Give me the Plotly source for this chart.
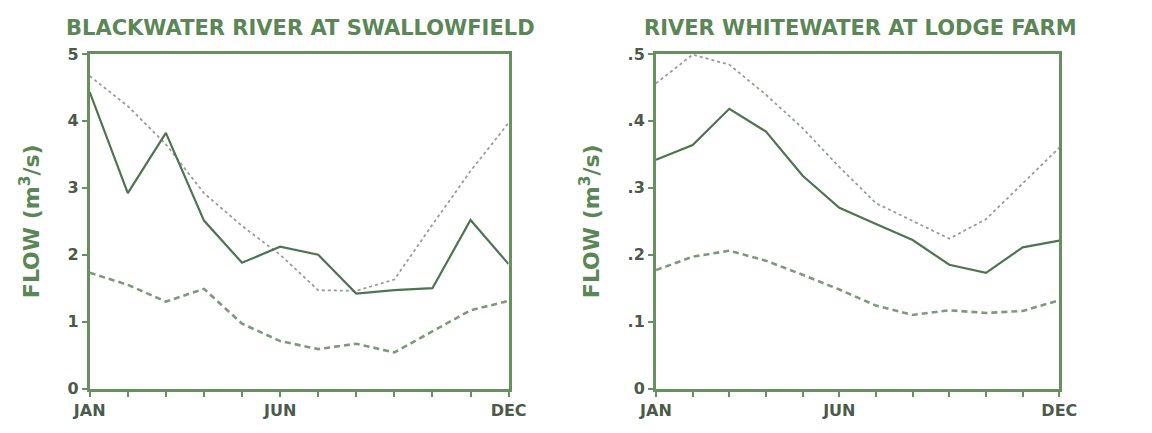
import plotly.graph_objects as go

# Monthly flow statistics (m3/s)
months = ["JAN", "FEB", "MAR", "APR", "MAY", "JUN", "JUL", "AUG", "SEP", "OCT", "NOV", "DEC"]
label_months = [0, 5, 11]
label_text = ["JAN", "JUN", "DEC"]

blackwater_year = [4.43, 2.92, 3.82, 2.51, 1.88, 2.12, 2.00, 1.42, 1.47, 1.50, 2.52, 1.86]
blackwater_max = [4.67, 4.22, 3.65, 2.92, 2.43, 2.00, 1.47, 1.46, 1.63, 2.45, 3.25, 3.97]
blackwater_min = [1.73, 1.55, 1.30, 1.49, 0.97, 0.71, 0.59, 0.67, 0.54, 0.86, 1.17, 1.31]

whitewater_year = [0.342, 0.364, 0.418, 0.384, 0.318, 0.270, 0.246, 0.222, 0.185, 0.173, 0.211, 0.221]
whitewater_max = [0.456, 0.499, 0.484, 0.439, 0.389, 0.331, 0.277, 0.250, 0.224, 0.253, 0.307, 0.360]
whitewater_min = [0.177, 0.197, 0.206, 0.191, 0.170, 0.148, 0.124, 0.110, 0.117, 0.113, 0.116, 0.132]

left_yticks = [0, 1, 2, 3, 4, 5]
left_ytext = ["0", "1", "2", "3", "4", "5"]
right_yticks = [0, 0.1, 0.2, 0.3, 0.4, 0.5]
right_ytext = ["0", ".1", ".2", ".3", ".4", ".5"]

FRAME = "#67905f"
TITLE = "#5b8655"
SOLID = "#4f7450"
DOTTED = "#959f94"
DASHED = "#7f9a7b"
TEXT = "#4b5a4b"
FONT = "DejaVu Sans"

xs = list(range(len(months)))

fig = go.Figure()


def add_panel(year, mx, mn, xa, ya):
    fig.add_trace(go.Scatter(x=xs, y=mx, mode="lines", xaxis=xa, yaxis=ya,
                             line=dict(color=DOTTED, width=1.8, dash="dot"),
                             showlegend=False))
    fig.add_trace(go.Scatter(x=xs, y=mn, mode="lines", xaxis=xa, yaxis=ya,
                             line=dict(color=DASHED, width=2.6, dash="6px,4px"),
                             showlegend=False))
    fig.add_trace(go.Scatter(x=xs, y=year, mode="lines", xaxis=xa, yaxis=ya,
                             line=dict(color=SOLID, width=2.2),
                             showlegend=False))


add_panel(blackwater_year, blackwater_max, blackwater_min, "x", "y")
add_panel(whitewater_year, whitewater_max, whitewater_min, "x2", "y2")

y_bottom = 1 - 397 / 433
y_top = 1 - 47 / 433

xaxis_common = dict(
    range=[0, 11], tickvals=label_months, ticktext=label_text,
    showline=True, linewidth=3, linecolor=FRAME, mirror=True,
    ticks="outside", ticklen=5, tickwidth=1.5, tickcolor=FRAME,
    minor=dict(tickvals=xs, ticks="outside", ticklen=5, tickwidth=1.5, tickcolor=FRAME),
    showgrid=False, zeroline=False, fixedrange=True,
    tickfont=dict(family=FONT, size=16, color=TEXT, weight="bold"),
)
yaxis_common = dict(
    showline=True, linewidth=3, linecolor=FRAME, mirror=True,
    ticks="outside", ticklen=5, tickwidth=1.5, tickcolor=FRAME,
    showgrid=False, zeroline=False, fixedrange=True,
    tickfont=dict(family=FONT, size=16, color=TEXT, weight="bold"),
    title=dict(text="FLOW (m<sup>3</sup>/s)", standoff=22,
               font=dict(family=FONT, size=22, color=TITLE, weight="bold")),
)

fig.update_layout(
    width=1152, height=433,
    margin=dict(l=0, r=0, t=0, b=0),
    paper_bgcolor="white", plot_bgcolor="white",
    xaxis=dict(domain=[75 / 1152, 507 / 1152], anchor="y", **xaxis_common),
    yaxis=dict(domain=[y_bottom, y_top], anchor="x", range=[0, 5],
               tickvals=left_yticks, ticktext=left_ytext, **yaxis_common),
    xaxis2=dict(domain=[659 / 1152, 1075 / 1152], anchor="y2", **xaxis_common),
    yaxis2=dict(domain=[y_bottom, y_top], anchor="x2", range=[0, 0.5],
                tickvals=right_yticks, ticktext=right_ytext, **yaxis_common),
    annotations=[
        dict(text="BLACKWATER RIVER AT SWALLOWFIELD", x=292 / 1152, y=1 - 20 / 433,
             xref="paper", yref="paper", showarrow=False, xanchor="center", yanchor="middle",
             font=dict(family=FONT, size=21, color=TITLE, weight="bold")),
        dict(text="RIVER WHITEWATER AT LODGE FARM", x=870 / 1152, y=1 - 20 / 433,
             xref="paper", yref="paper", showarrow=False, xanchor="center", yanchor="middle",
             font=dict(family=FONT, size=21, color=TITLE, weight="bold")),
    ],
)

fig.write_html("out.html")
